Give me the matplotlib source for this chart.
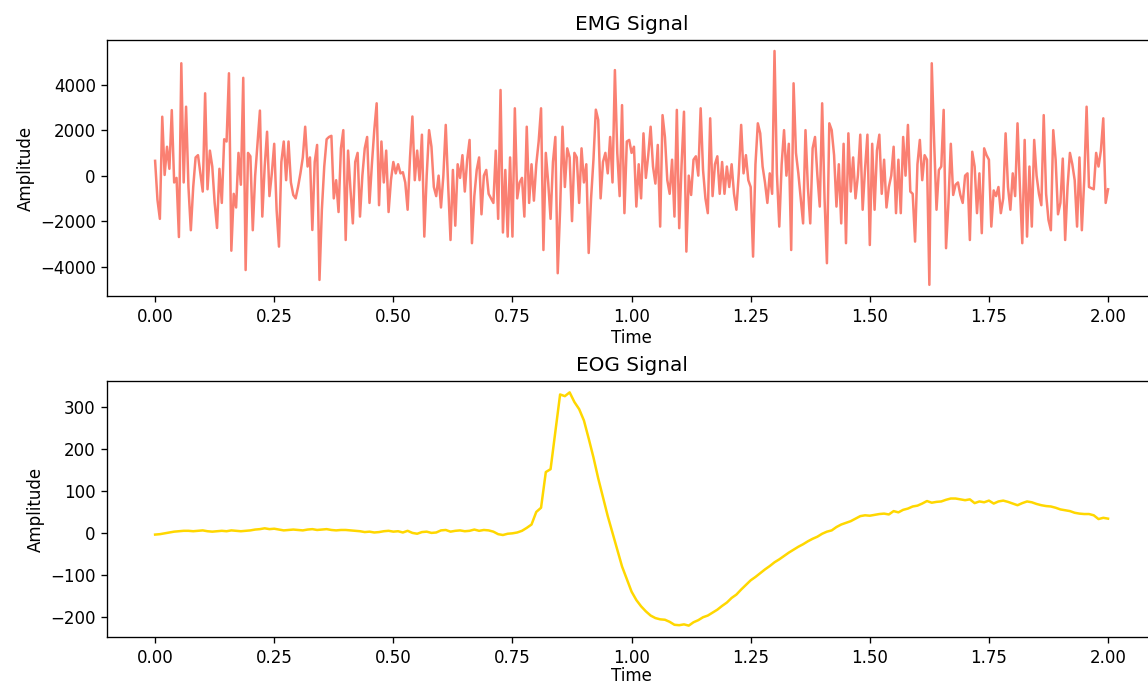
import numpy as np
import matplotlib
matplotlib.use("Agg")
import matplotlib.pyplot as plt

# EMG samples, 0.005 s step (0 .. 2 s)
emg = [
    650, -1070, -1900, 2590, 30, 1270, 300, 2880, -300, -100,
    -2700, 4940, -300, 3030, -500, -2400, -500, 800, 900, 100,
    -700, 3620, -600, 1100, 400, -1200, -2300, 300, -1200, 1600,
    1500, 4500, -3300, -800, -1400, 1000, -400, 4300, -4150, 1000,
    850, -2400, 0, 1400, 2860, -1800, 400, 1930, -900, 100,
    1400, -1500, -3120, 600, 1500, -200, 1500, -300, -850, -1000,
    -500, 100, 800, 2150, 400, 800, -2390, 600, 1350, -4585,
    -1500, 400, 1600, 1700, 1750, -1000, -200, -1600, 1200, 2000,
    -2830, 1100, -600, -2100, 600, 1000, -1800, 0, 1200, 1700,
    -1200, 500, 2000, 3180, -1300, 1500, -300, 1100, -1600, -200,
    600, 100, 500, 100, 150, -300, -1500, 800, 2600, -200,
    1100, -200, 1800, -2680, 0, 2000, 1270, -500, -900, 0,
    -1400, 0, 2230, -400, -2830, 250, -2200, 500, -100, 900,
    -700, 700, 1570, -2970, -900, 250, 800, -1700, 0, 250,
    -800, -1000, -1200, 1100, -1900, 3765, -2500, 250, -2680, 800,
    -2680, 2960, -1000, -300, -100, -1800, 2150, -1200, 500, -1100,
    500, 1500, 2960, -3270, 1000, -300, -1900, 600, 1700, -4290,
    -1500, 2150, -500, 1200, 800, -2000, 1000, 800, -1200, 1200,
    -300, 500, -3400, -1000, 700, 2900, 2450, -1000, 600, 1000,
    100, 1700, -300, 4640, 1000, -900, 3100, -1650, 1500, 1570,
    1000, 1270, -1360, 500, -1000, 1860, -100, 900, 2150, 400,
    -350, 1350, -2240, 2660, 1700, -200, -800, 700, -1800, 2890,
    -2310, 500, 2810, -3340, 0, -850, 700, 850, 0, 2960,
    250, -1000, -1650, 2520, -900, 500, 850, -800, 600, -800,
    400, -500, 500, -800, -1500, 100, 2230, 100, 900, -200,
    -500, -3560, 500, 2300, 1860, 400, -300, -1200, 100, -800,
    5480, 100, -2240, 500, 2000, 0, 1400, -3270, 4060, 1000,
    100, -1000, -2100, 2000, -500, -2100, 1200, 1700, 0, -1360,
    3180, -1000, -3850, 2300, 2000, 900, -1360, 500, -2100, 1400,
    -2970, 1860, -700, 800, -1000, 0, 1800, -1500, 300, 1800,
    -3050, 1400, -1500, 1100, 1800, -800, 700, -1400, -500, 0,
    1270, -1650, 700, -1650, 1700, 0, 2230, -700, -800, -2900,
    500, 1570, -200, 900, 700, -4800, 4940, 1500, -1500, 250,
    400, 2890, -3190, -1200, 1400, -850, -400, -300, -850, -1200,
    0, 100, -2830, 1050, 400, -1650, 100, -2530, 1200, 900,
    700, -2240, -650, -900, -500, -1650, -1000, 1860, -500, -1500,
    100, -900, 2300, -500, -2970, 1570, -2680, 400, -2240, 1570,
    0, -800, -1300, 2660, -800, -1950, -2400, 2000, 700, -1700,
    -1200, 750, -2830, -500, 1000, 500, -200, -2240, 800, -2400,
    -200, 3030, -500, -550, -600, 1000, 400, 1100, 2520, -1200,
    -600,
]

# EOG samples, 0.01 s step (0 .. 2 s)
eog = [
    -4, -3, -1, 1, 3, 4, 5, 5, 4, 5,
    6, 4, 3, 4, 5, 4, 6, 5, 4, 5,
    6, 8, 9, 11, 9, 10, 8, 6, 7, 8,
    7, 6, 8, 9, 7, 8, 9, 7, 6, 7,
    7, 6, 5, 4, 2, 3, 1, 2, 4, 5,
    3, 4, 1, 5, 0, -2, 2, 3, 0, 1,
    6, 7, 3, 5, 6, 4, 5, 8, 5, 7,
    6, 3, -3, -5, -2, -1, 1, 5, 12, 20,
    50, 60, 145, 152, 240, 330, 326, 335, 312, 295,
    268, 225, 180, 130, 85, 40, 0, -40, -80, -110,
    -140, -160, -175, -187, -197, -203, -206, -207, -212, -219,
    -220, -218, -221, -213, -208, -201, -197, -190, -183, -174,
    -166, -155, -147, -135, -124, -113, -105, -96, -87, -79,
    -70, -63, -55, -47, -40, -33, -27, -20, -14, -9,
    -2, 3, 6, 14, 20, 24, 28, 34, 40, 42,
    41, 43, 45, 46, 44, 52, 49, 55, 58, 63,
    65, 70, 76, 72, 74, 75, 79, 82, 82, 80,
    78, 80, 71, 75, 73, 77, 70, 75, 77, 74,
    70, 66, 71, 75, 73, 69, 66, 64, 63, 60,
    56, 54, 52, 48, 46, 45, 45, 42, 33, 36,
    34,
]

t_emg = np.linspace(0, 2, len(emg))
t_eog = np.linspace(0, 2, len(eog))

fig = plt.figure(figsize=(1148 / 120, 684 / 120), dpi=120)
# the original screenshot cuts off the right edge of the axes
ax1 = fig.add_axes([0.0936, 0.5673, 0.9131, 0.3743])
ax2 = fig.add_axes([0.0936, 0.0683, 0.9131, 0.3751])

ax1.plot(t_emg, emg, color="salmon")
ax1.set_ylim(-5290, 5965)
ax1.set_title("EMG Signal")
ax1.set_xlabel("Time", labelpad=2)
ax1.set_ylabel("Amplitude", labelpad=3)

ax2.plot(t_eog, eog, color="gold")
ax2.set_title("EOG Signal")
ax2.set_xlabel("Time", labelpad=0)
ax2.set_ylabel("Amplitude", labelpad=3)

fig.savefig("out.png", dpi=120)
